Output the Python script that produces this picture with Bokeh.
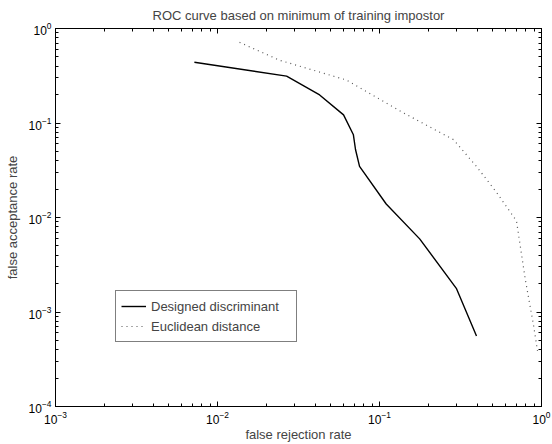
from bokeh.plotting import figure
from bokeh.models import LogAxis, FixedTicker, Legend, LegendItem, Range1d, CustomJSTickFormatter
from bokeh.embed import file_html
from bokeh.resources import INLINE

# ---- data ----
frr_designed = [0.0072, 0.0267, 0.0427, 0.060, 0.069, 0.0711, 0.0753, 0.110, 0.177, 0.298, 0.397]
far_designed = [0.44, 0.313, 0.198, 0.122, 0.075, 0.0524, 0.0347, 0.0139, 0.00594, 0.00178, 0.000556]

frr_euclid = [0.01368, 0.0242, 0.0625, 0.1406, 0.286, 0.397, 0.527, 0.701, 0.796, 0.893, 0.945]
far_euclid = [0.713, 0.461, 0.285, 0.128, 0.0667, 0.0347, 0.0185, 0.00919, 0.00216, 0.000726, 0.000387]

x_major = [1e-3, 1e-2, 1e-1, 1e0]
y_major = [1e-4, 1e-3, 1e-2, 1e-1, 1e0]

title_text = "ROC curve based on minimum of training impostor"
x_label = "false rejection rate"
y_label = "false acceptance rate"
series_names = ["Designed discriminant", "Euclidean distance"]

FONT = "Liberation Sans"


def minors(majors):
    out = []
    for m in majors[:-1]:
        out += [k * m for k in range(2, 10)]
    return out


p = figure(width=552, height=444, x_axis_type="log", y_axis_type="log",
           x_range=Range1d(x_major[0], x_major[-1]), y_range=Range1d(y_major[0], y_major[-1]),
           output_backend="svg", toolbar_location=None,
           min_border_left=55, min_border_right=11, min_border_top=28, min_border_bottom=35)

p.title.text = title_text
p.title.align = "center"
p.title.text_font = FONT
p.title.text_font_size = "13px"
p.title.text_font_style = "normal"
p.title.standoff = 11

p.xgrid.visible = False
p.ygrid.visible = False
p.outline_line_color = "black"
p.outline_line_width = 1


def style_axis(ax, labels=True):
    ax.axis_line_color = "black"
    ax.major_tick_in = 5
    ax.major_tick_out = 0
    ax.minor_tick_in = 3
    ax.minor_tick_out = 0
    ax.major_tick_line_color = "black"
    ax.minor_tick_line_color = "black"
    ax.major_label_text_font = FONT
    ax.major_label_text_font_size = "12px"
    ax.major_label_text_color = "black"
    ax.axis_label_text_font = FONT
    ax.axis_label_text_font_size = "13px"
    ax.axis_label_text_font_style = "normal"
    if not labels:
        ax.formatter = CustomJSTickFormatter(code="return '';")
        ax.major_label_text_color = None
        ax.major_label_standoff = 0


p.xaxis.ticker = FixedTicker(ticks=x_major, minor_ticks=minors(x_major))
p.yaxis.ticker = FixedTicker(ticks=y_major, minor_ticks=minors(y_major))
for ax in p.xaxis + p.yaxis:
    style_axis(ax)
p.xaxis.axis_label = x_label
p.yaxis.axis_label = y_label
p.xaxis.major_label_standoff = 4
p.yaxis.major_label_standoff = 4
p.xaxis.axis_label_standoff = 0
p.yaxis.axis_label_standoff = 6

top_ax = LogAxis(ticker=FixedTicker(ticks=x_major, minor_ticks=minors(x_major)))
right_ax = LogAxis(ticker=FixedTicker(ticks=y_major, minor_ticks=minors(y_major)))
style_axis(top_ax, labels=False)
style_axis(right_ax, labels=False)
p.add_layout(top_ax, "above")
p.add_layout(right_ax, "right")

r1 = p.line(frr_designed, far_designed, line_color="black", line_width=1.4)
r2 = p.line(frr_euclid, far_euclid, line_color="#555555", line_width=1.2, line_dash="1 4")

legend = Legend(items=[LegendItem(label=series_names[0], renderers=[r1]),
                       LegendItem(label=series_names[1], renderers=[r2])],
                location=(60, 64))
legend.label_text_font = FONT
legend.label_text_font_size = "13px"
legend.border_line_color = "black"
legend.border_line_width = 1
legend.background_fill_color = "white"
legend.background_fill_alpha = 1
legend.padding = 5
legend.margin = 0
legend.spacing = 0
legend.glyph_width = 25
legend.glyph_height = 20
legend.label_height = 20
legend.label_width = 140
legend.label_standoff = 5
p.add_layout(legend, "center")

open("out.html", "w").write(file_html(p, INLINE))
